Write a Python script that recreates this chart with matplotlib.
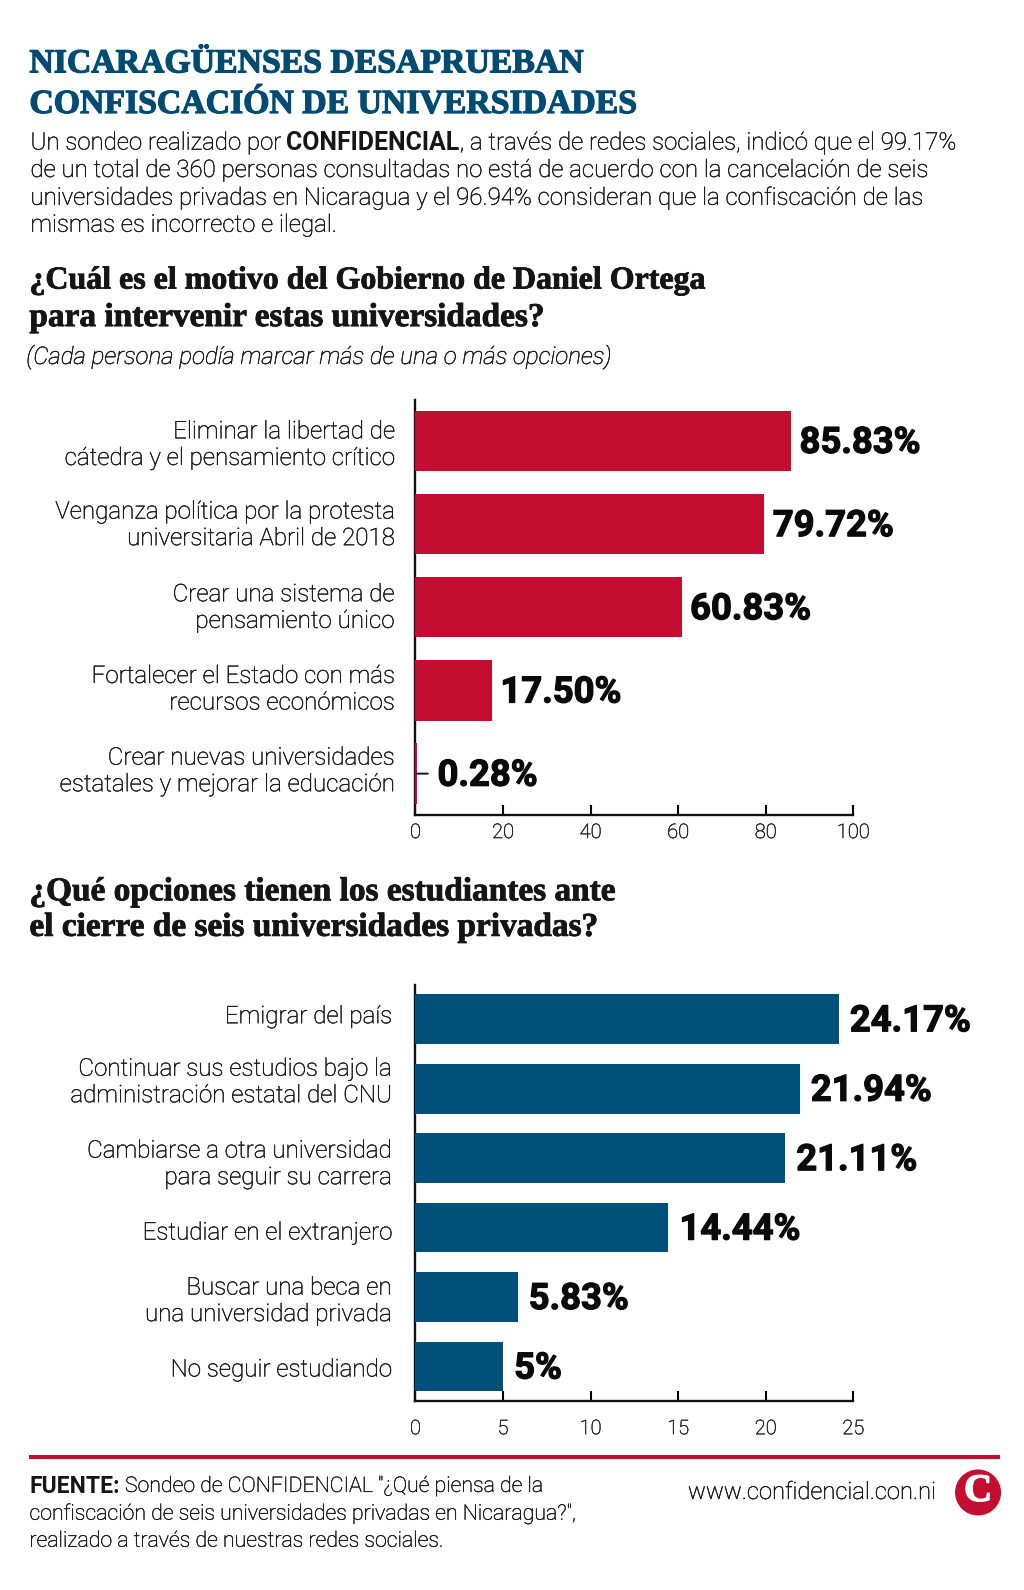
"""Encuesta Confidencial: dos barras horizontales con texto alrededor."""
import matplotlib
matplotlib.use("Agg")
import matplotlib.pyplot as plt
import matplotlib.patheffects as pe
from matplotlib.patches import Circle
from matplotlib.transforms import Affine2D

W, H = 1024, 1590
S = 1.0146
RED = "#c30e31"
BLUE = "#00507a"
TITLE = "#004b73"
TXT = "#161616"
SANS = "Roboto"
SERIF = "Liberation Serif"

title_lines = ["NICARAGÜENSES DESAPRUEBAN", "CONFISCACIÓN DE UNIVERSIDADES"]
intro_lines = [
    "de un total de 360 personas consultadas no está de acuerdo con la cancelación de seis",
    "universidades privadas en Nicaragua y el 96.94% consideran que la confiscación de las",
    "mismas es incorrecto e ilegal.",
]
q1_lines = ["¿Cuál es el motivo del Gobierno de Daniel Ortega", "para intervenir estas universidades?"]
q1_note = "(Cada persona podía marcar más de una o más opciones)"
q2_lines = ["¿Qué opciones tienen los estudiantes ante", "el cierre de seis universidades privadas?"]

cats1 = [
    "Eliminar la libertad de\ncátedra y el pensamiento crítico",
    "Venganza política por la protesta\nuniversitaria Abril de 2018",
    "Crear una sistema de\npensamiento único",
    "Fortalecer el Estado con más\nrecursos económicos",
    "Crear nuevas universidades\nestatales y mejorar la educación",
]
vals1 = [85.83, 79.72, 60.83, 17.50, 0.28]
labels1 = ["85.83%", "79.72%", "60.83%", "17.50%", "0.28%"]
ticks1 = [0, 20, 40, 60, 80, 100]

cats2 = [
    "Emigrar del país",
    "Continuar sus estudios bajo la\nadministración estatal del CNU",
    "Cambiarse a otra universidad\npara seguir su carrera",
    "Estudiar en el extranjero",
    "Buscar una beca en\nuna universidad privada",
    "No seguir estudiando",
]
vals2 = [24.17, 21.94, 21.11, 14.44, 5.83, 5]
labels2 = ["24.17%", "21.94%", "21.11%", "14.44%", "5.83%", "5%"]
ticks2 = [0, 5, 10, 15, 20, 25]


def text_px(x, y, s, **kw):
    # x, y in view pixels from the top left
    kw.setdefault("va", "center")
    return fig.text(x * S / W, 1 - y * S / H, s, **kw)


def heavy(artist, w=0.6, color="#151515"):
    artist.set_path_effects([pe.withStroke(linewidth=w, foreground=color)])
    return artist


def body_px(x, y, s, **kw):
    # Roboto Light is a touch thinner than the original, so thicken it slightly
    return heavy(text_px(x, y, s, **kw), 0.3, TXT)


def bar_panel(box, cats, vals, labels, ticks, xmax, color, ylim, bar_h, pad, gap, xpad, shifts):
    left, top, right, bottom = [v * S for v in box]
    ax = fig.add_axes([left / W, 1 - bottom / H, (right - left) / W, (bottom - top) / H])
    y = list(range(len(vals)))
    ax.barh(y, vals, height=bar_h, color=color, zorder=3)
    ax.set_xlim(0, xmax)
    ax.set_ylim(*ylim)
    for s in ("top", "right"):
        ax.spines[s].set_visible(False)
    for s in ("left", "bottom"):
        ax.spines[s].set_linewidth(1.7)
        ax.spines[s].set_color("#111111")
    ax.set_xticks(ticks)
    ax.tick_params(axis="x", direction="in", length=7, width=1.5, labelsize=14.5,
                   labelcolor="#222222", pad=xpad)
    ax.set_yticks(y)
    ax.set_yticklabels(cats, fontsize=17.4, color=TXT, linespacing=1.2, ha="right")
    ax.tick_params(axis="y", length=0, pad=pad)
    for lab in ax.get_xticklabels() + ax.get_yticklabels():
        lab.set_family(SANS)
        lab.set_fontweight("light")
        heavy(lab, 0.3, TXT)
    # the labels do not sit exactly on the bar centres in the original
    for lab, dy in zip(ax.get_yticklabels(), shifts):
        lab.set_transform(lab.get_transform() + Affine2D().translate(0, -dy))
    for yi, v, s in zip(y, vals, labels):
        # very short bars get a small leader to their label
        off = 15 if v < 1 else gap
        ann = ax.annotate(s, (v, yi), xytext=(off, -1.5), textcoords="offset points",
                          va="center", fontsize=26.2, fontweight="bold", family=SANS, color="#0a0a0a")
        heavy(ann, 0.9, "#0a0a0a")
        if v < 1:
            ax.annotate("", (v, yi), xytext=(8, 0), textcoords="offset points",
                        arrowprops=dict(arrowstyle="-", color="#111111", lw=1.4, shrinkA=0, shrinkB=0))
    return ax


fig = plt.figure(figsize=(W / 100, H / 100), dpi=100, facecolor="white")

for yy, s in zip((63, 103), title_lines):
    heavy(text_px(29, yy, s, family=SERIF, fontsize=24.3, fontweight="bold", color=TITLE), 0.9, TITLE)

BODY = dict(family=SANS, fontsize=17.3, fontweight="light", color=TXT)
t = body_px(30, 141, "Un sondeo realizado por ", **BODY)
fig.canvas.draw()
r = fig.canvas.get_renderer()
x1 = t.get_window_extent(r).x1
t2 = fig.text(x1 / W, 1 - 141 * S / H, "CONFIDENCIAL", va="center", family=SANS, fontsize=17.9,
              fontweight="bold", color=TXT)
x2 = t2.get_window_extent(r).x1
body_px(x2 / S, 141, ", a través de redes sociales, indicó que el 99.17%", **BODY)
for yy, s in zip((168, 195, 222), intro_lines):
    body_px(30, yy, s, **BODY)

for yy, s, fs in zip((277, 313), q1_lines, (23, 24)):
    heavy(text_px(29, yy, s, family=SERIF, fontsize=fs, fontweight="bold", color="#151515"))
body_px(26, 352, q1_note, family=SANS, fontsize=17.35, fontweight="light", style="italic", color=TXT)

bar_panel((409.5, 394, 841, 803), cats1, vals1, labels1, ticks1, 100, RED,
          (4.494, -0.494), 0.725, 15, 6, 6, [0, -3, -3.5, -5, -6.5])

for yy, s in zip((879, 914), q2_lines):
    heavy(text_px(29, yy, s, family=SERIF, fontsize=24, fontweight="bold", color="#151515"))

bar_panel((409.5, 971, 841, 1381), cats2, vals2, labels2, ticks2, 25, BLUE,
          (5.5, -0.49), 0.717, 17, 8, 13, [-5, -10.5, 2, 3, 0, 1])

# Footer
fig.add_artist(plt.Line2D([29 * S / W, 986 * S / W], [1 - 1436 * S / H] * 2, color=RED, lw=3,
                          solid_capstyle="butt"))
FOOT = dict(family=SANS, fontsize=15.35, fontweight="light", color=TXT)
f = text_px(29, 1465, "FUENTE:", family=SANS, fontsize=16.5, fontweight="bold", color=TXT)
fig.canvas.draw()
x3 = f.get_window_extent(r).x1
body_px((x3 + 5) / S, 1465, "Sondeo de CONFIDENCIAL \"¿Qué piensa de la", **FOOT)
body_px(29, 1492, "confiscación de seis universidades privadas en Nicaragua?\",", **FOOT)
body_px(29, 1519, "realizado a través de nuestras redes sociales.", **FOOT)
body_px(678, 1471, "www.confidencial.con.ni", family=SANS, fontsize=17.1, fontweight="light", color=TXT)

logo = fig.add_axes([0, 0, 1, 1], facecolor="none")
logo.set_xlim(0, W)
logo.set_ylim(H, 0)
logo.axis("off")
logo.add_patch(Circle((964 * S, 1471 * S), 22 * S, color=RED))
heavy(logo.text(964 * S, 1470 * S, "C", family=SERIF, fontweight="bold", fontsize=28, color="white",
                ha="center", va="center"), 1.0, "white")

fig.savefig("out.png", dpi=100)
